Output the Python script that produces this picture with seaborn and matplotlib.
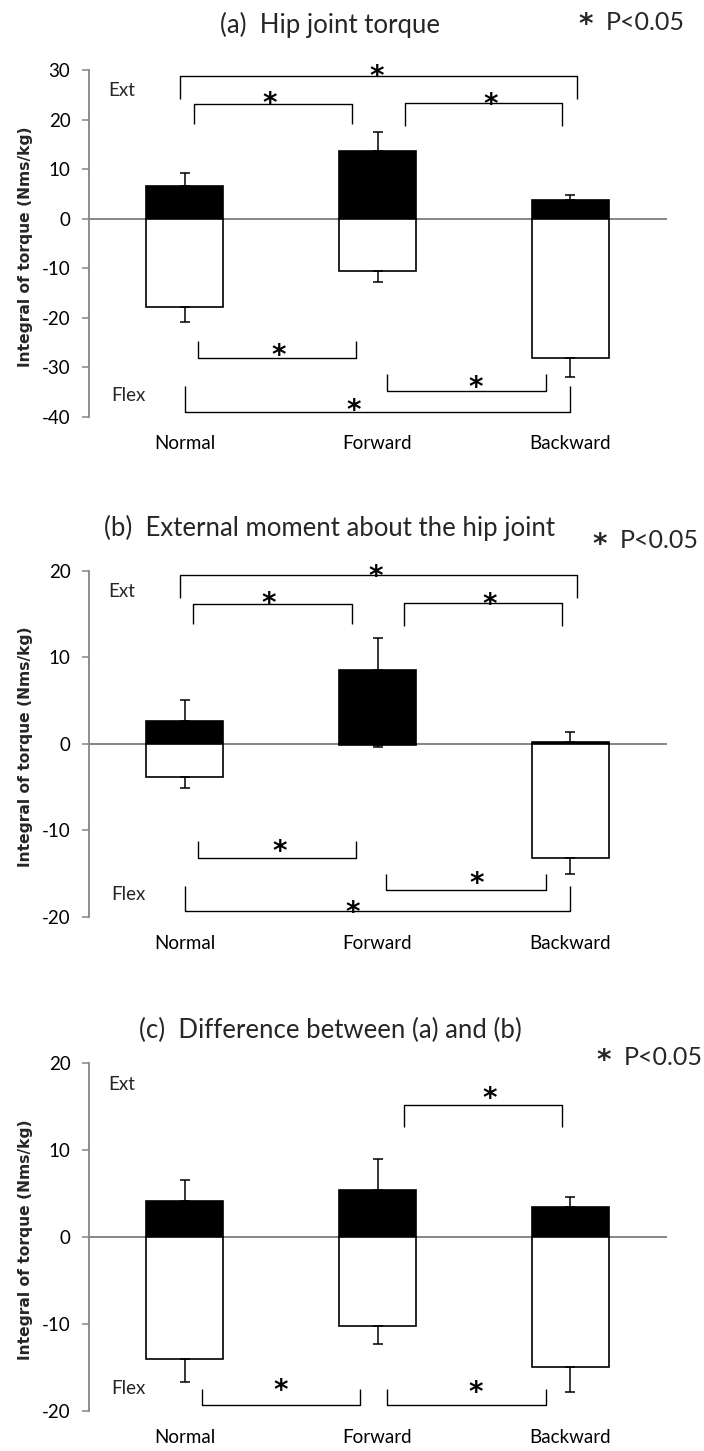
import numpy as np
import pandas as pd
import matplotlib
matplotlib.use("Agg")
import matplotlib.pyplot as plt
import seaborn as sns

sns.set_style("white")
plt.rcParams["font.family"] = ["Lato", "DejaVu Sans"]

conditions = ["Normal", "Forward", "Backward"]

# (a) hip joint torque: extension (positive) and flexion (negative) integrals, mean and SD
hip_ext = [6.6, 13.7, 3.7]
hip_ext_sd = [2.6, 3.7, 1.15]
hip_flex = [-17.9, -10.6, -28.0]
hip_flex_sd = [3.0, 2.1, 3.9]

# (b) external moment about the hip joint
mom_ext = [2.6, 8.55, 0.2]
mom_ext_sd = [2.5, 3.65, 1.15]
mom_flex = [-3.9, -0.2, -13.2]
mom_flex_sd = [1.25, 0.2, 1.9]

# (c) difference between (a) and (b)
diff_ext = [4.1, 5.4, 3.45]
diff_ext_sd = [2.5, 3.6, 1.15]
diff_flex = [-14.1, -10.3, -15.0]
diff_flex_sd = [2.6, 2.0, 2.8]

ticks_a = [30, 20, 10, 0, -10, -20, -30, -40]
ticks_bc = [20, 10, 0, -10, -20]

titles = ["(a)  Hip joint torque",
          "(b)  External moment about the hip joint",
          "(c)  Difference between (a) and (b)"]
sig_star = "*"
sig_note = "P<0.05"

# significance brackets: (x0, x1, bar height, leg end, star x, star y)
brackets_a = [(-0.027, 2.035, 28.7, 24.2, 0.994, 30.0),
              (0.05, 0.87, 23.1, 19.2, 0.438, 24.6),
              (1.143, 1.96, 23.3, 18.8, 1.585, 24.5),
              (0.069, 0.889, -28.1, -24.7, 0.486, -26.2),
              (1.05, 1.872, -34.8, -31.4, 1.51, -32.6),
              (0.003, 2.0, -39.0, -33.7, 0.875, -37.3)]
brackets_b = [(-0.027, 2.037, 19.46, 16.88, 0.988, 20.1),
              (0.043, 0.869, 16.1, 13.8, 0.433, 17.0),
              (1.137, 1.96, 16.25, 13.6, 1.58, 16.9),
              (0.066, 0.887, -13.2, -11.2, 0.491, -11.7),
              (1.046, 1.872, -16.96, -15.1, 1.513, -15.4),
              (0.001, 2.0, -19.35, -16.5, 0.871, -18.7)]
brackets_c = [(1.137, 1.96, 15.24, 12.66, 1.58, 16.7),
              (0.087, 0.911, -19.37, -17.53, 0.496, -16.95),
              (1.051, 1.872, -19.37, -17.53, 1.51, -17.1)]

W, H = 704, 1451
fig = plt.figure(figsize=(W / 100, H / 100), dpi=100)

GRAY = "#868686"
LEFT, WIDTH = 88.5 / W, 578 / W


def panel(top_px, bottom_px, ext, ext_sd, flex, flex_sd, ylim, yticks,
          brackets, ext_y, flex_y):
    ax = fig.add_axes([LEFT, 1 - bottom_px / H, WIDTH, (bottom_px - top_px) / H])
    df = pd.DataFrame({
        "condition": conditions * 2,
        "value": list(ext) + list(flex),
        "side": ["Ext"] * 3 + ["Flex"] * 3,
    })
    ax.axhline(0, color=GRAY, lw=1.4, zorder=0.5)
    sns.barplot(data=df, x="condition", y="value", hue="side",
                palette={"Ext": "black", "Flex": "white"}, dodge=False,
                width=0.4, edgecolor="black", linewidth=1.2, saturation=1,
                legend=False, ax=ax, zorder=2)
    x = np.arange(len(conditions))
    zeros = np.zeros(len(conditions))
    ax.errorbar(x, ext, yerr=[zeros, ext_sd], fmt="none", ecolor="black",
                elinewidth=1.1, capsize=3.3, capthick=1.1, zorder=3)
    ax.errorbar(x, flex, yerr=[flex_sd, zeros], fmt="none", ecolor="black",
                elinewidth=1.1, capsize=3.3, capthick=1.1, zorder=3)

    for x0, x1, yl, yleg, sx, sy in brackets:
        ax.plot([x0, x0, x1, x1], [yleg, yl, yl, yleg], color="black",
                lw=1.0, solid_capstyle="butt", zorder=3, clip_on=False)
        ax.annotate(sig_star, (sx, sy), xytext=(0, -11),
                    textcoords="offset points", annotation_clip=False,
                    ha="center", va="baseline", fontsize=20,
                    fontfamily="DejaVu Sans", fontweight="bold",
                    color="black")

    ax.text(-0.40, ext_y, "Ext", ha="left", va="center", fontsize=13.5)
    ax.text(-0.38, flex_y, "Flex", ha="left", va="center", fontsize=13.5)

    ax.set_xlim(-0.5, 2.5)
    ax.set_ylim(*ylim)
    ax.set_yticks(yticks)
    ax.set_yticklabels([str(t) for t in yticks])
    for side in ("top", "right", "bottom"):
        ax.spines[side].set_visible(False)
    ax.spines["left"].set_color(GRAY)
    ax.spines["left"].set_linewidth(1.3)
    ax.tick_params(axis="y", left=True, direction="out", length=5, width=1.1,
                   color=GRAY, pad=8, labelsize=13.5, labelcolor="black")
    ax.tick_params(axis="x", bottom=False, length=0, pad=13, labelsize=13.5,
                   labelcolor="black")
    ax.set_xlabel("")
    ax.set_ylabel("Integral of torque (Nms/kg)", fontfamily="DejaVu Sans",
                  fontweight="bold", fontsize=11.2)
    ax.yaxis.set_label_coords(-0.0955, 0.492)
    return ax


panel(70, 417, hip_ext, hip_ext_sd, hip_flex, hip_flex_sd, (-40, 30), ticks_a,
      brackets_a, 25.9, -35.6)
panel(570.7, 916.7, mom_ext, mom_ext_sd, mom_flex, mom_flex_sd, (-20, 20),
      ticks_bc, brackets_b, 17.6, -17.4)
panel(1063.3, 1410.7, diff_ext, diff_ext_sd, diff_flex, diff_flex_sd,
      (-20, 20), ticks_bc, brackets_c, 17.6, -17.4)

# panel titles
for title, base in zip(titles, [33.3, 536, 1038.3]):
    fig.text(330 / W, 1 - base / H, title, ha="center", va="baseline",
             fontsize=18.5)

# significance note: star marker followed by the threshold
for sx, sbase, px, pbase in [(586, 32.7, 606, 30),
                             (600, 552.7, 620, 548.3),
                             (604, 1069.2, 624, 1065)]:
    fig.text(sx / W, 1 - sbase / H, sig_star, ha="center", va="baseline",
             fontsize=20, fontfamily="DejaVu Sans", fontweight="bold")
    fig.text(px / W, 1 - pbase / H, sig_note, ha="left", va="baseline",
             fontsize=18)

fig.savefig("out.png", dpi=100)
